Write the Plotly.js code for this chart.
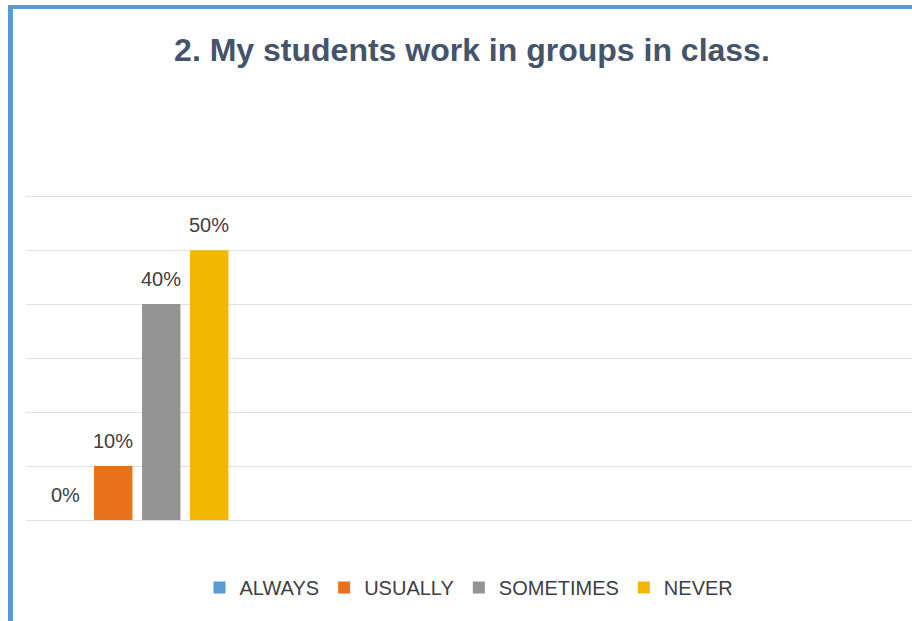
<!DOCTYPE html>
<html>
<head>
<meta charset="utf-8">
<script src="https://cdn.plot.ly/plotly-3.0.1.min.js"></script>
<style>
html,body{margin:0;padding:0;background:#ffffff;overflow:hidden;}
#frame{position:absolute;left:8px;top:5px;width:920px;height:640px;border-left:5px solid #5b9bd5;border-top:4px solid #5b9bd5;box-sizing:border-box;}
#chart{position:absolute;left:0;top:0;width:912px;height:621px;}
</style>
</head>
<body>
<div id="frame"></div>
<div id="chart"></div>
<script>
const category = ["Q2"];
const seriesNames = ["ALWAYS", "USUALLY", "SOMETIMES", "NEVER"];
const seriesValues = [0.0, 0.10, 0.40, 0.50];
const seriesColors = ["#5b9bd5", "#e8711c", "#939393", "#f2b800"];
const titleText = "2. My students work in groups in class.";

const W = 912, H = 621;
const margin = {l: 26, r: 0, t: 194, b: 101, pad: 0};
const xRange = [-0.5794, 4.0352];
const bargap = 0, bargroupgap = 0.2;

const traces = seriesNames.map((name, i) => ({
  type: "bar",
  name: name,
  x: category,
  y: [seriesValues[i]],
  marker: {color: seriesColors[i]},
  hoverinfo: "skip"
}));

// data labels, placed above each bar of the group
const plotW = W - margin.l - margin.r;
const pxPerUnit = plotW / (xRange[1] - xRange[0]);
const slotPx = pxPerUnit * (1 - bargap) / seriesNames.length;
const annotations = seriesNames.map((name, i) => ({
  x: 0,
  y: seriesValues[i],
  xref: "x", yref: "y",
  text: Math.round(seriesValues[i] * 100) + "%",
  showarrow: false,
  xanchor: "center",
  yanchor: "bottom",
  xshift: (i - (seriesNames.length - 1) / 2) * slotPx,
  yshift: 12,
  font: {family: "Liberation Sans, Arial, sans-serif", size: 20, color: "#404040"}
}));

const layout = {
  width: W,
  height: H,
  paper_bgcolor: "rgba(0,0,0,0)",
  plot_bgcolor: "rgba(0,0,0,0)",
  margin: margin,
  barmode: "group",
  bargap: bargap,
  bargroupgap: bargroupgap,
  title: {
    text: "<b>" + titleText + "</b>",
    font: {family: "Liberation Sans, Arial, sans-serif", size: 32, color: "#44546a"},
    x: 0.5175, xref: "container", xanchor: "center",
    y: 0.92, yref: "container", yanchor: "middle"
  },
  xaxis: {
    type: "category",
    range: xRange,
    showticklabels: false,
    showgrid: false,
    zeroline: false,
    showline: false,
    ticks: ""
  },
  yaxis: {
    range: [0, 0.604],
    dtick: 0.1,
    showticklabels: false,
    showgrid: true,
    gridcolor: "#dde1e9",
    gridwidth: 1,
    zeroline: true,
    zerolinecolor: "#dde1e9",
    zerolinewidth: 1,
    showline: false,
    ticks: ""
  },
  annotations: annotations,
  showlegend: true,
  legend: {
    orientation: "h",
    x: 0.5, xanchor: "center",
    y: -0.207, yanchor: "middle",
    font: {family: "Liberation Sans, Arial, sans-serif", size: 20, color: "#404040"},
    bgcolor: "rgba(0,0,0,0)"
  }
};

Plotly.newPlot("chart", traces, layout, {displayModeBar: false, staticPlot: true});
</script>
</body>
</html>
